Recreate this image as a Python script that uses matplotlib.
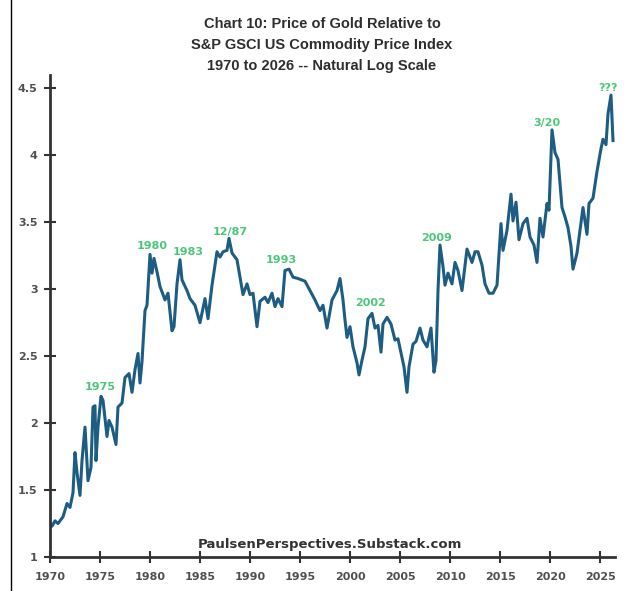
"""
Chart 10: gold relative to S&P GSCI, natural log scale
"""
import matplotlib
matplotlib.use('Agg')
import matplotlib.pyplot as plt
from matplotlib.lines import Line2D

plt.rcParams['font.family'] = ['DejaVu Sans']

# 연도 / 값
years = [1970.0, 1970.2, 1970.5, 1970.8, 1971.3, 1971.7, 1972.0, 1972.3, 1972.5, 1972.7,
         1973.0, 1973.2, 1973.5, 1973.8, 1974.1, 1974.3, 1974.5, 1974.6, 1974.8, 1975.1,
         1975.3, 1975.7, 1975.9, 1976.2, 1976.6, 1976.8, 1977.2, 1977.5, 1977.9, 1978.2,
         1978.5, 1978.8, 1979.0, 1979.2, 1979.5, 1979.7, 1980.0, 1980.2, 1980.4, 1980.7,
         1981.0, 1981.5, 1981.8, 1982.2, 1982.4, 1982.7, 1983.0, 1983.2, 1983.7, 1984.0,
         1984.5, 1985.0, 1985.5, 1985.8, 1986.2, 1986.7, 1987.0, 1987.3, 1987.7, 1987.9,
         1988.2, 1988.7, 1989.0, 1989.3, 1989.7, 1990.0, 1990.3, 1990.7, 1991.0, 1991.5,
         1991.8, 1992.2, 1992.5, 1992.8, 1993.2, 1993.5, 1993.9, 1994.3, 1994.8, 1995.5,
         1996.0, 1996.5, 1997.0, 1997.3, 1997.7, 1998.2, 1998.7, 1999.0, 1999.3, 1999.5,
         1999.7, 2000.0, 2000.3, 2000.7, 2000.9, 2001.2, 2001.5, 2001.8, 2002.2, 2002.5,
         2002.8, 2003.1, 2003.3, 2003.7, 2004.1, 2004.5, 2004.8, 2005.2, 2005.4, 2005.7,
         2005.9, 2006.3, 2006.6, 2007.0, 2007.3, 2007.7, 2008.1, 2008.4, 2008.6, 2008.8,
         2009.0, 2009.3, 2009.5, 2009.8, 2010.2, 2010.5, 2010.8, 2011.2, 2011.7, 2012.2,
         2012.5, 2012.8, 2013.2, 2013.5, 2013.9, 2014.3, 2014.7, 2015.1, 2015.3, 2015.7,
         2016.1, 2016.3, 2016.6, 2016.9, 2017.3, 2017.7, 2018.0, 2018.4, 2018.7, 2019.0,
         2019.3, 2019.7, 2019.9, 2020.2, 2020.5, 2020.8, 2021.2, 2021.5, 2021.8, 2022.1,
         2022.3, 2022.7, 2023.0, 2023.3, 2023.7, 2023.9, 2024.3, 2024.7, 2025.1, 2025.3,
         2025.6, 2025.8, 2026.1, 2026.3]
ratio = [1.25, 1.23, 1.27, 1.25, 1.30, 1.40, 1.37, 1.48, 1.78, 1.63,
         1.46, 1.72, 1.97, 1.57, 1.67, 2.12, 2.13, 1.72, 1.97, 2.20,
         2.17, 1.90, 2.02, 1.97, 1.84, 2.12, 2.15, 2.34, 2.37, 2.23,
         2.40, 2.52, 2.30, 2.46, 2.84, 2.88, 3.26, 3.12, 3.23, 3.13,
         3.02, 2.92, 2.97, 2.69, 2.72, 3.04, 3.22, 3.07, 2.99, 2.93,
         2.88, 2.75, 2.93, 2.78, 3.03, 3.28, 3.24, 3.28, 3.29, 3.38,
         3.27, 3.22, 3.09, 2.96, 3.04, 2.96, 2.97, 2.72, 2.91, 2.94,
         2.90, 2.97, 2.87, 2.93, 2.87, 3.14, 3.15, 3.09, 3.08, 3.06,
         2.99, 2.92, 2.84, 2.88, 2.71, 2.92, 2.99, 3.08, 2.92, 2.77,
         2.64, 2.72, 2.57, 2.45, 2.36, 2.47, 2.57, 2.78, 2.82, 2.71,
         2.73, 2.53, 2.74, 2.79, 2.74, 2.62, 2.63, 2.49, 2.42, 2.23,
         2.42, 2.59, 2.61, 2.71, 2.62, 2.57, 2.71, 2.38, 2.47, 2.99,
         3.33, 3.17, 3.03, 3.12, 3.04, 3.20, 3.14, 2.99, 3.30, 3.20,
         3.28, 3.28, 3.18, 3.04, 2.97, 2.97, 3.03, 3.49, 3.29, 3.44,
         3.71, 3.51, 3.65, 3.37, 3.49, 3.53, 3.39, 3.33, 3.20, 3.53,
         3.39, 3.64, 3.59, 4.19, 4.02, 3.97, 3.61, 3.54, 3.46, 3.32,
         3.15, 3.27, 3.44, 3.61, 3.41, 3.64, 3.68, 3.88, 4.05, 4.12,
         4.08, 4.31, 4.45, 4.11]

# 주석 라벨
note_text = ['1975', '1980', '1983', '12/87', '1993', '2002', '2009', '3/20', '???']
note_x = [1975.0, 1980.2, 1983.8, 1988.0, 1993.1, 2002.1, 2008.7, 2019.7, 2025.8]
note_y = [2.27, 3.32, 3.28, 3.43, 3.22, 2.90, 3.38, 4.24, 4.50]

x_ticks = list(range(1970, 2030, 5))
y_ticks = [1, 1.5, 2, 2.5, 3, 3.5, 4, 4.5]
y_labels = ['1', '1.5', '2', '2.5', '3', '3.5', '4', '4.5']

title = ('Chart 10: Price of Gold Relative to\n'
         'S&P GSCI US Commodity Price Index\n'
         '1970 to 2026 -- Natural Log Scale')

fig = plt.figure(figsize=(6.33, 5.91), dpi=100)
ax = fig.add_axes([50 / 633, 34 / 591, 565 / 633, 482 / 591])

ax.plot(years, ratio, color='#1d5d84', linewidth=2.2, solid_joinstyle='round')

for t, x, y in zip(note_text, note_x, note_y):
    ax.text(x, y, t, ha='center', va='center', fontsize=8, fontweight='bold',
            color='#4cc77a')

ax.set_xlim(1970, 2026.5)
ax.set_ylim(1, 4.6)
ax.set_xticks(x_ticks)
ax.set_yticks(y_ticks)
ax.set_yticklabels(y_labels)

for side in ['top', 'right']:
    ax.spines[side].set_visible(False)
for side in ['left', 'bottom']:
    ax.spines[side].set_linewidth(2)
    ax.spines[side].set_color('#333333')

ax.tick_params(direction='inout', length=8, width=1.5, color='#333333',
               labelsize=8, labelcolor='#505050')
for lab in ax.get_xticklabels() + ax.get_yticklabels():
    lab.set_fontweight('bold')
ax.tick_params(axis='x', pad=7)
ax.tick_params(axis='y', pad=5)

fig.text(322 / 633, 1 - 45 / 591, title, ha='center', va='center', fontsize=10.5,
         fontweight='bold', color='#2e2e2e', linespacing=1.6,
         family=['Liberation Sans', 'DejaVu Sans'])

ax.text(1998.0, 1.09, 'PaulsenPerspectives.Substack.com', ha='center', va='center',
        fontsize=9.5, fontweight='semibold', color='#333333')

# 왼쪽 테두리선
fig.add_artist(Line2D([11 / 633, 11 / 633], [0, 1], color='black', linewidth=1))

plt.savefig('out.png', dpi=100)
